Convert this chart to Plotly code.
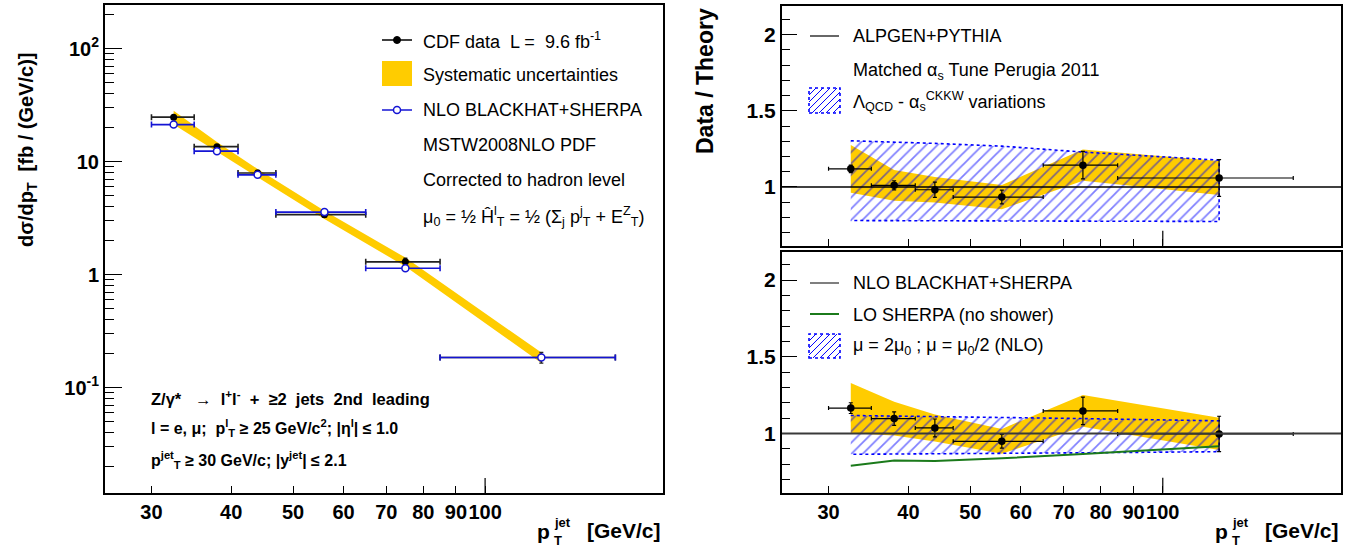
import plotly.graph_objects as go

# ---------------- data ----------------
pt_center = [32.5, 38.0, 44.0, 56.0, 75.0, 122.5]
pt_halfwidth = [2.5, 3.0, 3.0, 9.0, 10.0, 37.5]

cdf_xsec = [24.8, 13.6, 7.95, 3.40, 1.30, 0.185]
cdf_stat_err = [0.55, 0.45, 0.40, 0.16, 0.10, 0.02]
nlo_xsec = [21.3, 12.4, 7.65, 3.58, 1.14, 0.185]
syst_frac = [0.14, 0.10, 0.085, 0.085, 0.09, 0.105]

ratio_alpgen = [1.119, 1.011, 0.982, 0.934, 1.143, 1.059]
ratio_alpgen_err = [0.025, 0.030, 0.050, 0.045, 0.090, 0.120]
alpgen_var_hi = [1.303, 1.295, 1.286, 1.268, 1.229, 1.176]
alpgen_var_lo = [0.780, 0.780, 0.779, 0.778, 0.776, 0.774]

ratio_nlo = [1.166, 1.098, 1.037, 0.950, 1.148, 0.998]
ratio_nlo_err = [0.035, 0.044, 0.058, 0.044, 0.090, 0.115]
nlo_scale_hi = [1.118, 1.115, 1.112, 1.108, 1.098, 1.083]
nlo_scale_lo = [0.865, 0.866, 0.867, 0.870, 0.875, 0.882]
lo_sherpa_ratio = [0.791, 0.824, 0.821, 0.839, 0.867, 0.917]

x_ticks = [30, 40, 50, 60, 70, 80, 90, 100]
x_ticktext = ["30", "40", "50", "60", "70", "80", "90", "100"]

# ---------------- style ----------------
W, H = 1365, 555
FONT = "Liberation Sans"
YELLOW = "#ffcc00"
BLUE = "#1414d4"
HATCH = "#0000ff"
GREEN = "#1b7a1b"
XRANGE = [1.4043, 2.2788]
RRANGE = [0.615, 2.185]
NB = "\u00a0"


def px(x):
    return x / W


def py(y):
    return 1 - y / H


def band(xs, lo, hi):
    return list(xs) + list(xs)[::-1], list(hi) + list(lo)[::-1]


fig = go.Figure()

# ---------------- left panel ----------------
sys_hi = [v * (1 + f) for v, f in zip(cdf_xsec, syst_frac)]
sys_lo = [v * (1 - f) for v, f in zip(cdf_xsec, syst_frac)]
bx, by = band(pt_center, sys_lo, sys_hi)
fig.add_trace(go.Scatter(x=bx, y=by, fill="toself", fillcolor=YELLOW,
                         line=dict(width=0), mode="lines", hoverinfo="skip",
                         xaxis="x", yaxis="y", showlegend=False))
fig.add_trace(go.Scatter(
    x=pt_center, y=cdf_xsec, mode="markers", xaxis="x", yaxis="y",
    marker=dict(color="black", size=7, symbol="circle"),
    error_x=dict(type="data", array=pt_halfwidth, color="#222222", thickness=1.6, width=3),
    error_y=dict(type="data", array=cdf_stat_err, color="#222222", thickness=1.4, width=2),
    showlegend=False))
fig.add_trace(go.Scatter(
    x=pt_center, y=nlo_xsec, mode="markers", xaxis="x", yaxis="y",
    marker=dict(color="white", size=7, symbol="circle", line=dict(color=BLUE, width=1.5)),
    error_x=dict(type="data", array=pt_halfwidth, color=BLUE, thickness=1.6, width=3),
    showlegend=False))

HATCH_PATTERN = dict(shape="/", fgcolor=HATCH, bgcolor="rgba(0,0,0,0)",
                     size=8, solidity=0.22, fillmode="overlay")

# ---------------- right top panel ----------------
r_hi = [v * (1 + f) for v, f in zip(ratio_alpgen, syst_frac)]
r_lo = [v * (1 - f) for v, f in zip(ratio_alpgen, syst_frac)]
bx, by = band(pt_center, r_lo, r_hi)
fig.add_trace(go.Scatter(x=bx, y=by, fill="toself", fillcolor=YELLOW, line=dict(width=0),
                         mode="lines", xaxis="x2", yaxis="y2", showlegend=False))
bx, by = band(pt_center, alpgen_var_lo, alpgen_var_hi)
fig.add_trace(go.Scatter(x=bx, y=by, fill="toself", fillcolor="rgba(0,0,0,0)",
                         fillpattern=HATCH_PATTERN,
                         line=dict(color=HATCH, width=1.6, dash="dot"),
                         mode="lines", xaxis="x2", yaxis="y2", showlegend=False))
fig.add_trace(go.Scatter(
    x=pt_center, y=ratio_alpgen, mode="markers", xaxis="x2", yaxis="y2",
    marker=dict(color="black", size=7.5),
    error_x=dict(type="data", array=pt_halfwidth, color="black", thickness=1.2, width=2),
    error_y=dict(type="data", array=ratio_alpgen_err, color="black", thickness=1.2, width=2),
    showlegend=False))

# ---------------- right bottom panel ----------------
r_hi = [v * (1 + f) for v, f in zip(ratio_nlo, syst_frac)]
r_lo = [v * (1 - f) for v, f in zip(ratio_nlo, syst_frac)]
bx, by = band(pt_center, r_lo, r_hi)
fig.add_trace(go.Scatter(x=bx, y=by, fill="toself", fillcolor=YELLOW, line=dict(width=0),
                         mode="lines", xaxis="x3", yaxis="y3", showlegend=False))
bx, by = band(pt_center, nlo_scale_lo, nlo_scale_hi)
fig.add_trace(go.Scatter(x=bx, y=by, fill="toself", fillcolor="rgba(0,0,0,0)",
                         fillpattern=HATCH_PATTERN,
                         line=dict(color=HATCH, width=1.6, dash="dot"),
                         mode="lines", xaxis="x3", yaxis="y3", showlegend=False))
fig.add_trace(go.Scatter(x=pt_center, y=lo_sherpa_ratio, mode="lines",
                         line=dict(color=GREEN, width=2), xaxis="x3", yaxis="y3",
                         showlegend=False))
fig.add_trace(go.Scatter(
    x=pt_center, y=ratio_nlo, mode="markers", xaxis="x3", yaxis="y3",
    marker=dict(color="black", size=7.5),
    error_x=dict(type="data", array=pt_halfwidth, color="black", thickness=1.2, width=2),
    error_y=dict(type="data", array=ratio_nlo_err, color="black", thickness=1.2, width=2),
    showlegend=False))

# ---------------- axes ----------------
tickfont = dict(family=FONT, size=20, color="black", weight="bold")
rtickfont = dict(family=FONT, size=21, color="black", weight="bold")
common_x = dict(type="log", range=XRANGE, tickmode="array", tickvals=x_ticks,
                ticktext=x_ticktext, ticks="inside", ticklen=7, tickwidth=1.2,
                tickcolor="black", showline=True, mirror=True, linecolor="black",
                linewidth=2, showgrid=False, zeroline=False, tickfont=tickfont,
                tickangle=0, automargin=False)

log_minor = [k * 10 ** d for d in range(-2, 3) for k in range(2, 10)]
ratio_minor = [round(0.7 + 0.1 * i, 1) for i in range(15)]
ratio_minor = [v for v in ratio_minor if v not in (1.0, 1.5, 2.0)]

common_r = dict(range=RRANGE, tickmode="array", tickvals=[1, 1.5, 2],
                ticktext=["1", "1.5", "2"], ticks="inside", ticklen=15, tickwidth=1.2,
                tickcolor="black", showline=True, mirror=True, linecolor="black",
                linewidth=2, showgrid=False, zeroline=False, tickfont=rtickfont,
                automargin=False,
                minor=dict(tickmode="array", tickvals=ratio_minor, ticks="inside",
                           ticklen=8, tickwidth=1.2, tickcolor="black", showgrid=False))

fig.update_layout(
    width=W, height=H, margin=dict(l=0, r=0, t=0, b=0, autoexpand=False), autosize=False,
    paper_bgcolor="white", plot_bgcolor="white", showlegend=False,
    xaxis=dict(domain=[px(105), px(663)], anchor="y", **common_x),
    yaxis=dict(domain=[py(493), py(5)], anchor="x", type="log", range=[-1.932, 2.387],
               tickmode="array", tickvals=[0.1, 1, 10, 100],
               ticktext=["10<sup>-1</sup>", "1", "10", "10<sup>2</sup>"],
               ticks="inside", ticklen=17, tickwidth=1.2, tickcolor="black",
               showline=True, mirror=True, linecolor="black", linewidth=2,
               showgrid=False, zeroline=False, tickfont=tickfont, automargin=False,
               minor=dict(tickmode="array", tickvals=log_minor, ticks="inside",
                          ticklen=9, tickwidth=1.2, tickcolor="black", showgrid=False)),
    xaxis2=dict(domain=[px(782), px(1341)], anchor="y2", showticklabels=False, **common_x),
    yaxis2=dict(domain=[py(245.7), py(6.3)], anchor="x2", **common_r),
    xaxis3=dict(domain=[px(782), px(1341)], anchor="y3", **common_x),
    yaxis3=dict(domain=[py(492.7), py(251.7)], anchor="x3", **common_r),
)

shapes = []
# longer tick at 100 on each x axis
for xr, yr in (("x", "y domain"), ("x2", "y2 domain"), ("x3", "y3 domain")):
    shapes.append(dict(type="line", xref=xr, yref=yr, x0=100, x1=100, ysizemode="pixel",
                       yanchor=0, y0=0, y1=15, line=dict(color="black", width=1.2)))
# reference lines at ratio 1
shapes.append(dict(type="line", xref="x2 domain", yref="y2", x0=0, x1=1, y0=1, y1=1,
                   line=dict(color="black", width=1.5)))
shapes.append(dict(type="line", xref="x3 domain", yref="y3", x0=0, x1=1, y0=1, y1=1,
                   line=dict(color="#3a3a3a", width=2)))


def pline(x0, y0, x1, y1, color, width=1.5):
    return dict(type="line", xref="paper", yref="paper", x0=px(x0), x1=px(x1),
                y0=py(y0), y1=py(y1), line=dict(color=color, width=width))


def hatched_box(x0, y0, x1, y1):
    # y0 top, y1 bottom (pixel coords)
    out = [dict(type="rect", xref="paper", yref="paper", x0=px(x0), x1=px(x1),
                y0=py(y1), y1=py(y0), fillcolor="white",
                line=dict(color=HATCH, width=1.6, dash="dot"))]
    h = y1 - y0
    path = ""
    s = x0 - h
    while s < x1:
        lo = max(0.0, x0 - s)
        hi = min(h, x1 - s)
        if hi > lo:
            path += "M%.4f,%.4f L%.4f,%.4f " % (px(s + lo), py(y1 - lo), px(s + hi), py(y1 - hi))
        s += 7
    out.append(dict(type="path", xref="paper", yref="paper", path=path,
                    line=dict(color=HATCH, width=1)))
    return out


# left legend keys
shapes.append(pline(382, 40, 412, 40, "black", 1.5))
shapes.append(dict(type="circle", xref="paper", yref="paper", x0=px(393.5), x1=px(400.5),
                   y0=py(43.5), y1=py(36.5), fillcolor="black", line=dict(color="black", width=1)))
shapes.append(dict(type="rect", xref="paper", yref="paper", x0=px(382), x1=px(412),
                   y0=py(86), y1=py(61), fillcolor=YELLOW, line=dict(width=0)))
shapes.append(pline(382, 110, 412, 110, BLUE, 1.5))
shapes.append(dict(type="circle", xref="paper", yref="paper", x0=px(393.5), x1=px(400.5),
                   y0=py(113.5), y1=py(106.5), fillcolor="white", line=dict(color=BLUE, width=1.5)))
# right top legend keys
shapes.append(pline(810, 36, 839, 36, "black", 1.2))
shapes += hatched_box(809, 88, 840, 113)
# right bottom legend keys
shapes.append(pline(810, 283, 839, 283, "#555555", 1.5))
shapes.append(pline(810, 314, 839, 314, GREEN, 2))
shapes += hatched_box(809, 334, 840, 358)
fig.update_layout(shapes=shapes)

ann = []


def text(x, y, s, size=18, bold=False, xanchor="left", angle=0, yanchor="middle"):
    ann.append(dict(x=px(x), y=py(y), xref="paper", yref="paper", text=s, showarrow=False,
                    xanchor=xanchor, yanchor=yanchor, textangle=angle,
                    font=dict(family=FONT, size=size, color="black",
                              weight="bold" if bold else "normal")))


# left legend text
text(421, 40, "CDF data" + NB * 2 + "L =" + NB * 2 + "9.6 fb<sup>-1</sup>")
text(421, 75, "Systematic uncertainties")
text(421, 110, "NLO BLACKHAT+SHERPA")
text(421, 145, "MSTW2008NLO PDF")
text(421, 180, "Corrected to hadron level")
text(421, 216, "μ<sub>0</sub> = ½ Ĥ<sup>l</sup><sub>T</sub> = ½ (Σ<sub>j</sub> p<sup>j</sup><sub>T</sub> + E<sup>Z</sup><sub>T</sub>)")

# left bottom text
text(149, 398, "Z/γ*" + NB * 3 + "→" + NB * 2 + "l<sup>+</sup>l<sup>-</sup>" + NB * 2 + "+" + NB * 2
     + "≥2" + NB * 2 + "jets" + NB * 2 + "2nd" + NB * 2 + "leading", size=16.5, bold=True)
text(149, 428, "l = e, μ;" + NB * 2 + "p<sup>l</sup><sub>T</sub> ≥ 25 GeV/c<sup>2</sup>; |η<sup>l</sup>| ≤ 1.0",
     size=16, bold=True)
text(149, 460, "p<sup>jet</sup><sub>T</sub> ≥ 30 GeV/c; |y<sup>jet</sup>| ≤ 2.1", size=16, bold=True)

# right top legend text
text(851, 36, "ALPGEN+PYTHIA")
text(851, 71, "Matched α<sub>s</sub> Tune Perugia 2011")
text(851, 101, "Λ<sub>QCD</sub> - α<sub>s</sub><sup>CKKW</sup> variations")
# right bottom legend text
text(851, 283, "NLO BLACKHAT+SHERPA")
text(851, 315, "LO SHERPA (no shower)")
text(851, 346, "μ = 2μ<sub>0</sub> ; μ = μ<sub>0</sub>/2 (NLO)")

# axis titles
text(27, 150, "dσ/dp<sub>T</sub>" + NB * 2 + "[fb / (GeV/c)]", size=20, bold=True,
     xanchor="center", angle=-90)
text(705, 81, "Data / Theory", size=23, bold=True, xanchor="center", angle=-90)
for dx in (0, 678):
    text(1341 - dx, 530, "[GeV/c]", size=21, bold=True, xanchor="right")
    text(1230 - dx, 531, "p", size=21, bold=True, xanchor="right")
    text(1230 - dx, 522, "jet", size=13, bold=True)
    text(1230 - dx, 540, "T", size=13, bold=True)

fig.update_layout(annotations=ann)
fig.write_html("out.html", config={"displayModeBar": False},
               post_script="document.body.style.margin='0px';")
